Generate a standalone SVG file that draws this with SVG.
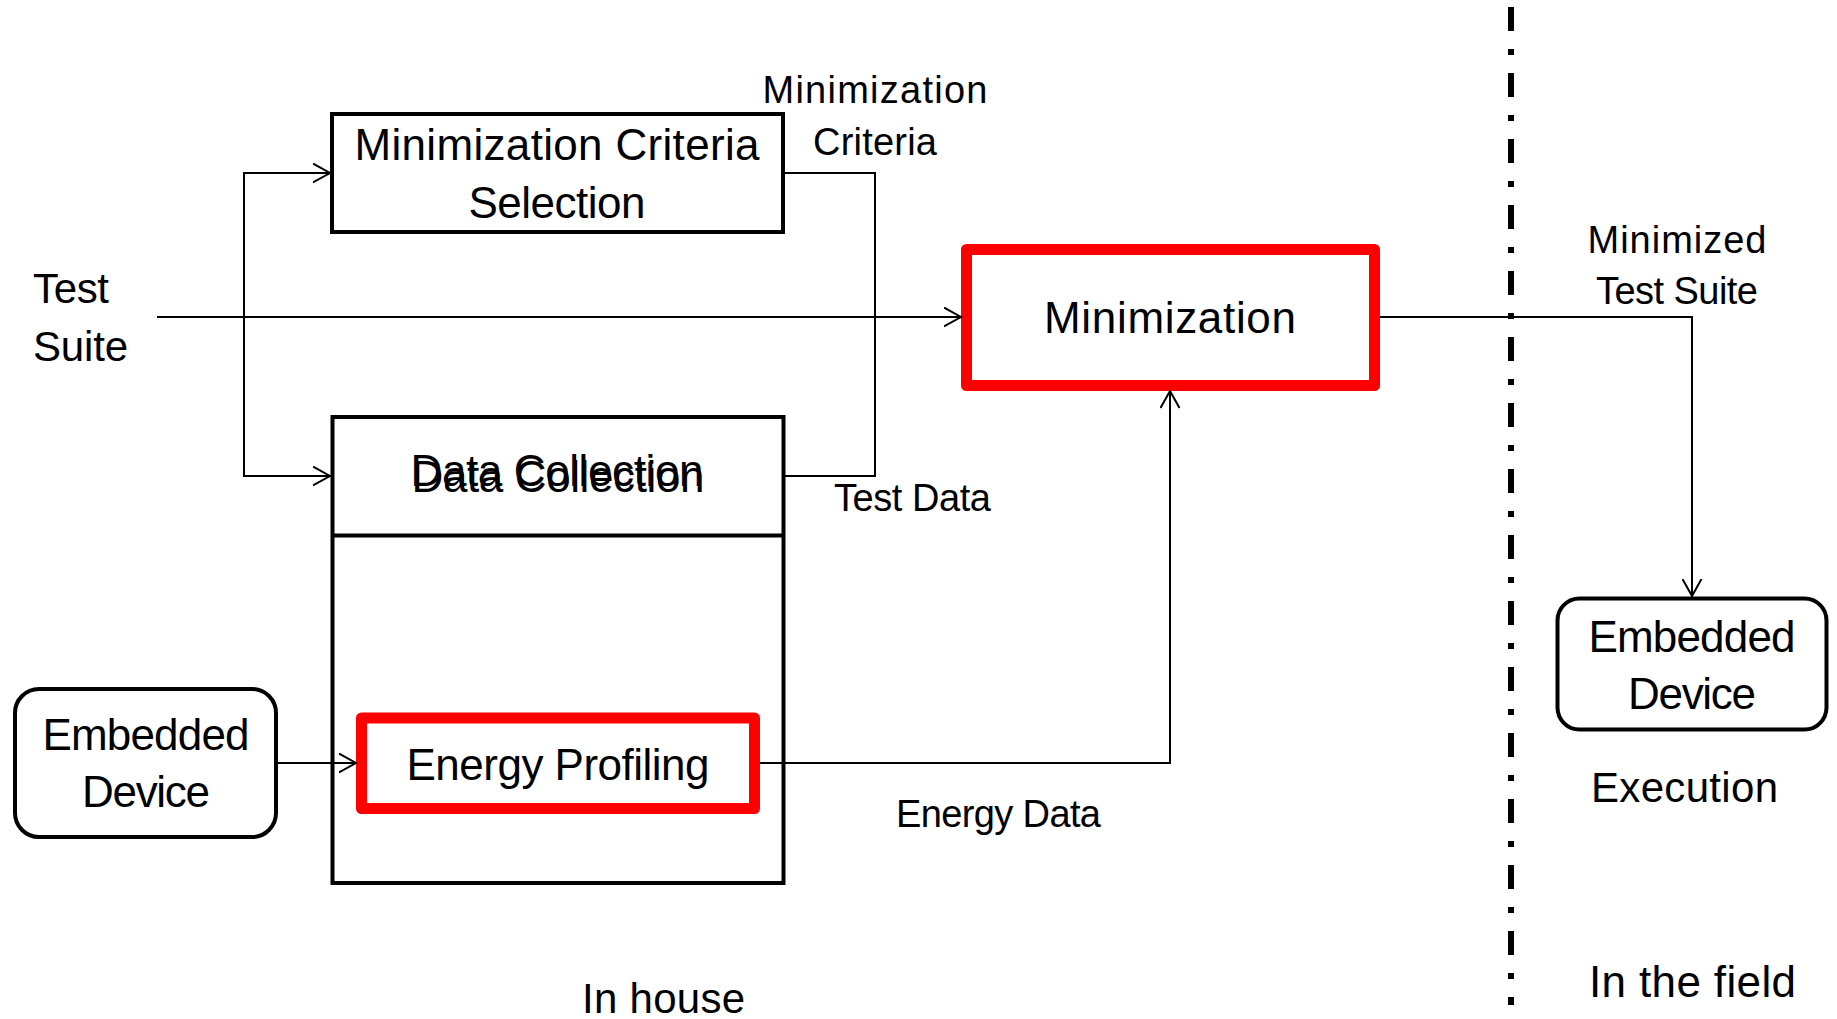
<svg xmlns="http://www.w3.org/2000/svg" width="1837" height="1019" viewBox="0 0 1837 1019">
  <style>
    text { font-family: "Liberation Sans", Arial, sans-serif; fill: #000; }
    .box { fill: #fff; stroke: #000; stroke-width: 4; }
    .red { fill: #fff; stroke: #ff0000; stroke-width: 11; stroke-linejoin: round; }
    .conn { fill: none; stroke: #000; stroke-width: 2; }
    .bt { font-size: 44px; text-anchor: middle; }
    .lbl { font-size: 38px; }
    .lblc { font-size: 38px; text-anchor: middle; }
  </style>
  <defs>
    <marker id="arr" markerUnits="userSpaceOnUse" viewBox="0 0 19 21" refX="17.5" refY="10.5" markerWidth="19" markerHeight="21" orient="auto">
      <path d="M0.5,1 L17.5,10.5 L0.5,20" fill="none" stroke="#000" stroke-width="2"/>
    </marker>
  </defs>
  <rect width="1837" height="1019" fill="#fff"/>

  <g id="divider">
    <line x1="1511" y1="7" x2="1511" y2="1005" stroke="#000" stroke-width="6" stroke-dasharray="24 18 6 18"/>
  </g>

  <g id="test-suite">
    <text x="33" y="303" font-size="42" textLength="76">Test</text>
    <text x="33" y="361" font-size="42" textLength="95">Suite</text>
  </g>

  <g id="mcs">
    <rect class="box" x="332" y="114" width="451" height="118"/>
    <text class="bt" x="557" y="160" textLength="405">Minimization Criteria</text>
    <text class="bt" x="557" y="218" textLength="177">Selection</text>
  </g>

  <g id="data-collection">
    <rect class="box" x="332.5" y="417" width="451" height="466"/>
    <line x1="332" y1="535.5" x2="784" y2="535.5" stroke="#000" stroke-width="4"/>
    <text class="bt" x="557" y="486" textLength="293">Data Collection</text>
    <text class="bt" x="558" y="492" textLength="293">Data Collection</text>
  </g>

  <g id="energy-profiling">
    <rect class="red" x="361.5" y="718" width="393" height="90.5"/>
    <text class="bt" x="558" y="780" textLength="303">Energy Profiling</text>
  </g>

  <g id="embedded-left">
    <rect class="box" x="15" y="689" width="261" height="148" rx="24" stroke-width="4.5"/>
    <text class="bt" x="146" y="750" textLength="207">Embedded</text>
    <text class="bt" x="146" y="807" textLength="128">Device</text>
  </g>

  <g id="minimization">
    <rect class="red" x="966.5" y="249.5" width="408" height="136"/>
    <text class="bt" x="1170" y="333" textLength="252">Minimization</text>
  </g>

  <g id="embedded-right">
    <rect class="box" x="1557.5" y="598.5" width="269" height="131" rx="22" stroke-width="4.5"/>
    <text class="bt" x="1692" y="652" textLength="207">Embedded</text>
    <text class="bt" x="1692" y="709" textLength="128">Device</text>
  </g>

  <g id="labels">
    <text class="lblc" x="875" y="103" textLength="225">Minimization</text>
    <text class="lblc" x="875" y="155" textLength="124">Criteria</text>
    <text class="lbl" x="834" y="511" textLength="157">Test Data</text>
    <text class="lbl" x="896" y="827" textLength="205">Energy Data</text>
    <text class="lblc" x="1677" y="253" textLength="179">Minimized</text>
    <text class="lblc" x="1677" y="304" textLength="162">Test Suite</text>
    <text x="1591" y="802" font-size="42" textLength="187">Execution</text>
    <text x="1589" y="997" font-size="44" textLength="207">In the field</text>
    <text x="582" y="1013" font-size="42" textLength="163">In house</text>
  </g>

  <g id="connectors">
    <path class="conn" d="M157,317 H961" marker-end="url(#arr)"/>
    <path class="conn" d="M244,317 V173 H330" marker-end="url(#arr)"/>
    <path class="conn" d="M244,317 V476 H330" marker-end="url(#arr)"/>
    <path class="conn" d="M785,173 H875 V476 H785"/>
    <path class="conn" d="M278,763 H356" marker-end="url(#arr)"/>
    <path class="conn" d="M760,763 H1170 V391" marker-end="url(#arr)"/>
    <path class="conn" d="M1380,317 H1692 V596" marker-end="url(#arr)"/>
  </g>
</svg>
